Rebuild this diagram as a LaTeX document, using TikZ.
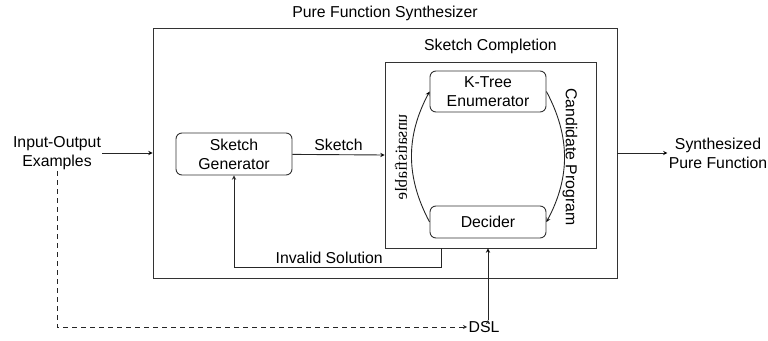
\documentclass[tikz,border=0pt]{standalone}
\usepackage{fontspec}
\setmainfont{Liberation Sans}
\newfontfamily\timesrm{Liberation Serif}
\usepackage{tikz}
\usetikzlibrary{positioning}
\usepackage{xcolor}

\begin{document}
\begin{tikzpicture}[x=1pt,y=-1pt,font=\fontsize{15.8}{19}\selectfont,
		line width=0.9pt,
		blk/.style={draw=black!80,rounded corners=6pt,minimum width=116pt,align=center,inner sep=2pt},
		frame/.style={draw=black!80,inner sep=0pt},
		txt/.style={align=center,inner sep=1pt}]
			\useasboundingbox (0,0) rectangle (768,340);
			\node[frame,minimum width=464pt,minimum height=250pt] (synth) at (385,153) {};
			\node[above=5pt of synth.north,txt] (synthlbl) {Pure Function Synthesizer};
			\node[frame,minimum width=211pt,minimum height=186pt] (comp) at (490.5,155) {};
			\node[above=6pt of comp.north,txt] (complbl) {Sketch Completion};
			\node[blk,minimum height=41pt] (enum) at (488,91.5) {K-Tree\\Enumerator};
			\node[blk,minimum height=32pt] (dec) at (488,222) {Decider};
			\node[blk,minimum height=42pt] (gen) at (234,154) {Sketch\\Generator};
			\node[txt] (io) at (57,153) {Input-Output\\Examples};
			\node[txt] (out) at (718,153) {Synthesized\\Pure Function};
			\node[txt] (dsl) at (484,327) {DSL};
			\node[txt,rotate=-90,yscale=-1,font=\timesrm\fontsize{17}{19}\selectfont] (unsat) at (401,157) {unsatisfiable};
			\node[txt,rotate=-90] (cand) at (570,157) {Candidate Program};
			\coordinate (inv) at (441,267);
			\path[-stealth,draw=black!85]
			(io) edge (synth.west)
			(synth.east) edge (out)
			(gen) edge node [above] {Sketch} (comp.west)
			(dec.west) edge [bend left=28] (enum.west)
			(enum.east) edge [bend left=28] (dec.east)
			([xshift=4pt]dsl.north) edge ([xshift=4pt]dsl.north |- comp.south)
			;
			\draw[-stealth,draw=black!85] (comp.south -| inv) -- (inv) -| node [pos=0.27,above] {Invalid Solution} (gen.south);
			\draw[-stealth,dash pattern=on 5pt off 4pt,draw=black!85] (io.south) |- (dsl.west);
		\end{tikzpicture}
\end{document}
